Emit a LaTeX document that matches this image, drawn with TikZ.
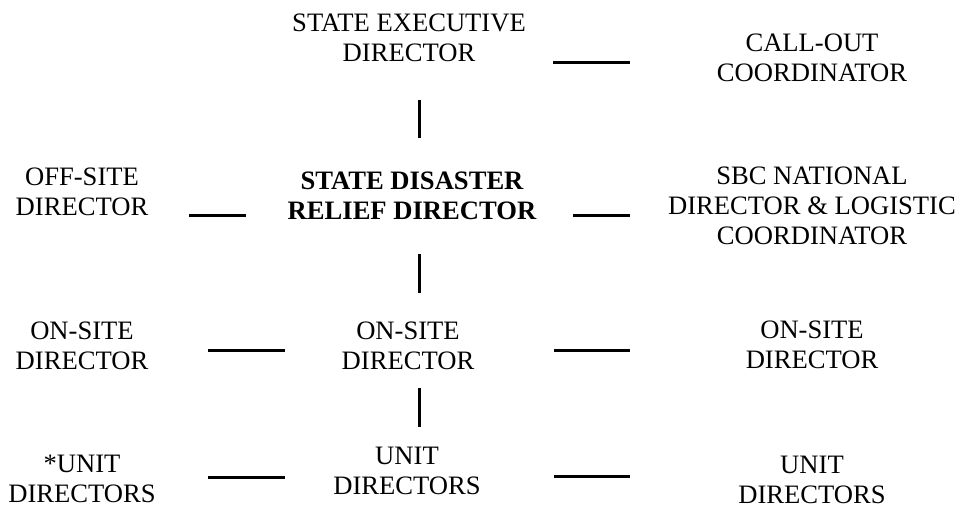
\documentclass[tikz,border=0pt]{standalone}
\usepackage{fontspec}
\setmainfont{Liberation Serif}
\usetikzlibrary{positioning}
\tikzset{
  post/.style={
    anchor=base,
    inner sep=0pt,
    align=center,
    font=\fontsize{26.6}{30}\selectfont,
  },
  head/.style={
    post,
    font=\fontsize{26.6}{30}\selectfont\bfseries
  },
  bar/.style={
    line width=3pt
  }
}
\begin{document}
\begin{tikzpicture}[x=1pt,y=-1pt]
\useasboundingbox (0,0) rectangle (963,507);

% top row
\node[post] (exec) at (409,61) {STATE EXECUTIVE\\DIRECTOR};
\node[post] (callout) at (812,81) {CALL-OUT\\COORDINATOR};
% second row
\node[post] (offsite) at (82,215) {OFF-SITE\\DIRECTOR};
\node[head] (sdrd) at (412,219) {STATE DISASTER\\RELIEF DIRECTOR};
\node[post] (sbc) at (812,244) {SBC NATIONAL\\DIRECTOR \& LOGISTIC\\COORDINATOR};
% third row
\node[post] (onsiteL) at (82,369) {ON-SITE\\DIRECTOR};
\node[post] (onsiteM) at (408,369) {ON-SITE\\DIRECTOR};
\node[post] (onsiteR) at (812,368) {ON-SITE\\DIRECTOR};
% bottom row
\node[post] (unitL) at (82,502) {*UNIT\\DIRECTORS};
\node[post] (unitM) at (407,494) {UNIT\\DIRECTORS};
\node[post] (unitR) at (812,503) {UNIT\\DIRECTORS};

% line ends
\coordinate (h1a) at (553,62);    \coordinate (h1b) at (630,62);
\coordinate (v1a) at (419,100);   \coordinate (v1b) at (419,138);
\coordinate (h2a) at (189,215.5); \coordinate (h2b) at (246,215.5);
\coordinate (h2c) at (573,215.5); \coordinate (h2d) at (630,215.5);
\coordinate (v2a) at (419,254);   \coordinate (v2b) at (419,293);
\coordinate (h3a) at (208,350);   \coordinate (h3b) at (285,350);
\coordinate (h3c) at (554,350);   \coordinate (h3d) at (630,350);
\coordinate (v3a) at (419,388);   \coordinate (v3b) at (419,427);
\coordinate (h4a) at (208,477);   \coordinate (h4b) at (285,477);
\coordinate (h4c) at (554,476);   \coordinate (h4d) at (630,476);

\foreach \a/\b in {h1a/h1b, v1a/v1b, h2a/h2b, h2c/h2d, v2a/v2b,
                   h3a/h3b, h3c/h3d, v3a/v3b, h4a/h4b, h4c/h4d}
  \draw[bar] (\a) -- (\b);
\end{tikzpicture}
\end{document}
